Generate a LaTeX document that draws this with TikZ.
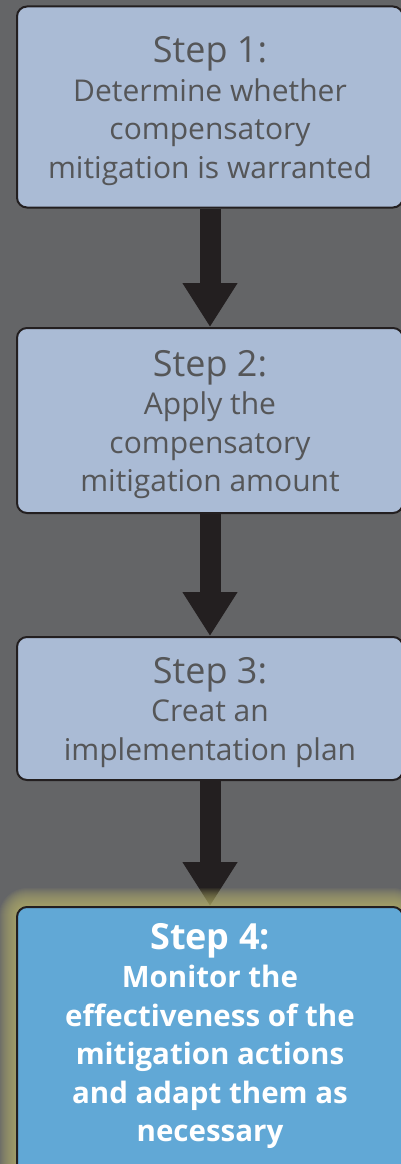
\documentclass[tikz,border=0pt]{standalone}
\usepackage{fontspec}
\setmainfont{Open Sans}
\usetikzlibrary{arrows.meta}
\definecolor{bgc}{HTML}{646567}
\definecolor{boxfill}{HTML}{AABBD5}
\definecolor{txt}{HTML}{555658}
\definecolor{hl}{HTML}{61A8D6}
\definecolor{ink}{HTML}{231F20}
\definecolor{glowc}{HTML}{B8B46A}
\pgfdeclarelayer{bglayer}
\pgfdeclarelayer{arrlayer}
\pgfdeclarelayer{glowlayer}
\pgfsetlayers{bglayer,arrlayer,glowlayer,main}
\tikzset{
  stepbox/.style={draw=ink, line width=2pt, rounded corners=10pt, fill=boxfill,
    minimum width=386pt, inner sep=0pt},
  lastbox/.style={stepbox, fill=hl},
  steptext/.style={inner sep=0pt, align=center, text=txt,
    font=\fontsize{30}{38.5}\selectfont},
  lasttext/.style={steptext, text=white, font=\fontsize{29.5}{38.5}\selectfont\bfseries},
  flowarrow/.style={draw=ink, line width=21pt, -{Triangle[width=52pt,length=44pt]}},
}
\newcommand{\steptitle}[1]{{\fontsize{36}{38.5}\selectfont #1}}
\begin{document}
\begin{tikzpicture}[x=1pt,y=-1pt]
\useasboundingbox (0,0) rectangle (401,1164);
\begin{pgfonlayer}{bglayer}
\fill[bgc] (0,0) rectangle (401,1164);
\end{pgfonlayer}
\clip (0,0) rectangle (401,1164);

\node[stepbox, minimum height=201pt] (b1) at (210,107) {};
\node[stepbox, minimum height=185pt] (b2) at (210,420.5) {};
\node[stepbox, minimum height=143pt] (b3) at (210,708.5) {};
\node[lastbox, minimum height=268pt, anchor=north] (b4) at (210,906) {};

\node[steptext] (t1) at ([yshift=-4pt]b1.center)
  {\steptitle{Step 1:}\\Determine whether\\compensatory\\mitigation is warranted};
\node[steptext] (t2) at ([yshift=-4pt]b2.center)
  {\steptitle{Step 2:}\\Apply the\\compensatory\\mitigation amount};
\node[steptext] (t3) at ([yshift=-4pt]b3.center)
  {\steptitle{Step 3:}\\Creat an\\implementation plan};
\node[lasttext] (t4) at ([yshift=5pt]b4.center)
  {\steptitle{Step 4:}\\Monitor the\\effectiveness of the\\mitigation actions\\and adapt them as\\necessary};

\begin{pgfonlayer}{arrlayer}
\draw[flowarrow] (b1.south) -- (b2.north);
\draw[flowarrow] (b2.south) -- (b3.north);
\draw[flowarrow] (b3.south) -- (b4.north);
\end{pgfonlayer}

\begin{pgfonlayer}{glowlayer}
\foreach \i in {1,...,18}
  \fill[glowc, opacity=0.075, rounded corners=10pt+\i pt]
    (17-\i,906-\i) rectangle (403+\i,1175+\i);
\end{pgfonlayer}
\end{tikzpicture}
\end{document}
